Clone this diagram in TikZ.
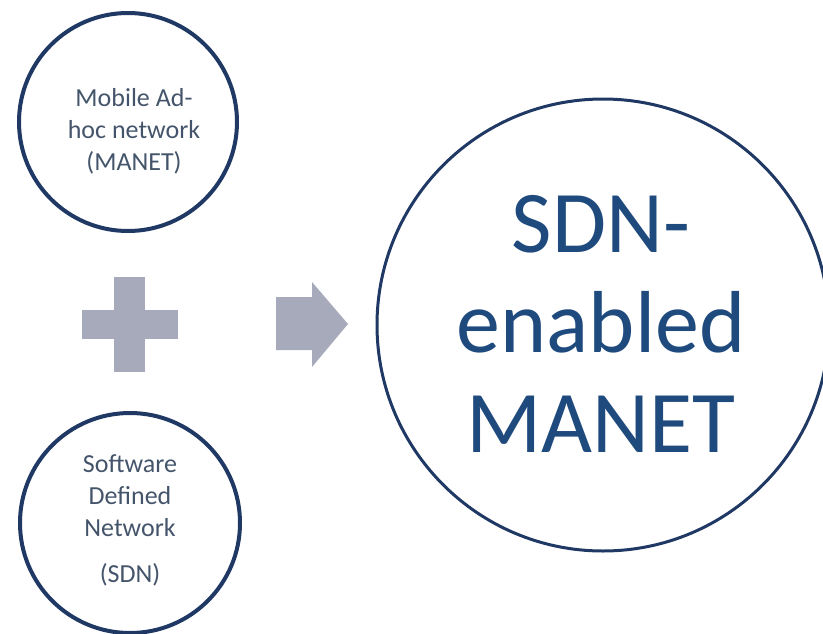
\documentclass[tikz,border=0pt]{standalone}
\usepackage{fontspec}
\setmainfont{Carlito}
\definecolor{ringblue}{HTML}{1F3864}
\definecolor{textblue}{HTML}{44546A}
\definecolor{bigblue}{HTML}{1F4A7D}
\definecolor{shapegray}{HTML}{A7AABB}

\begin{document}
\begin{tikzpicture}[x=1pt,y=-1pt]
    \tikzstyle{ring}=[draw=ringblue, circle, inner sep=0pt]
    \tikzstyle{small label}=[text=textblue, align=center, inner sep=0pt, font=\fontsize{26}{32}\selectfont]
    \tikzstyle{big label}=[text=bigblue, align=center, inner sep=0pt, font=\fontsize{88}{100}\selectfont]
    \useasboundingbox (0,0) rectangle (823,633);
    % the two inputs
    \node [ring, line width=4pt, minimum size=218pt] (manet) at (128,122) {};
    \node [small label] (manettext) at (134,131) {Mobile Ad-\\hoc network\\(MANET)};
    \node [ring, line width=4pt, minimum size=220pt] (sdn) at (130,523) {};
    \node [small label] (sdntext) at (130,520) {Software\\Defined\\Network\\[14pt](SDN)};
    % plus sign
    \fill [shapegray] (82,310) rectangle (178,339);
    \fill [shapegray] (114,277) rectangle (145,372);
    % arrow
    \fill [shapegray] (276,297) -- (312,297) -- (312,282) -- (348,324) -- (312,367) -- (312,350) -- (276,350) -- cycle;
    % the result
    \node [ring, line width=3pt, minimum size=452pt] (result) at (603,325) {};
    \node [big label] (resulttext) at (601,324) {SDN-\\enabled\\MANET};
\end{tikzpicture}
\end{document}
